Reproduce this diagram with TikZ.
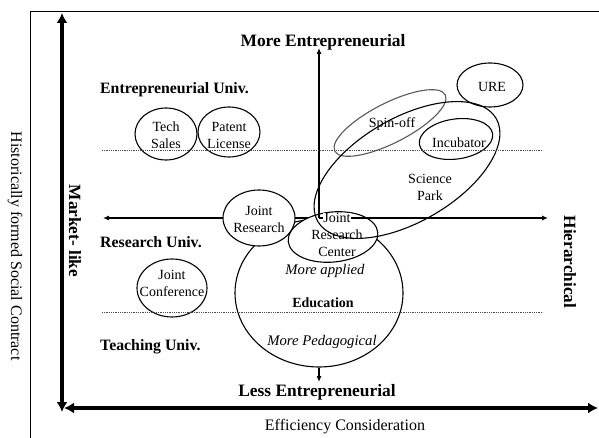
\documentclass[tikz,border=0pt]{standalone}
\usepackage{fontspec}
\setmainfont{Liberation Serif}
\usetikzlibrary{shapes.geometric,arrows.meta}
\begin{document}
\begin{tikzpicture}[x=1pt,y=-1pt,
  oval/.style={draw, ellipse, line width=1.1pt, inner sep=0pt},
  txt/.style={font=\fontsize{14}{17}\selectfont, align=center, inner sep=0pt},
  itxt/.style={font=\fontsize{14.7}{17}\selectfont\itshape, inner sep=0pt},
  lvl/.style={font=\fontsize{15.8}{18}\selectfont\bfseries, anchor=west, inner sep=0pt},
  big/.style={font=\fontsize{17.4}{20}\selectfont\bfseries, inner sep=0pt},
  axthin/.style={line width=1.1pt, -{Latex[length=6pt,width=5pt]}},
  axthick/.style={line width=4pt, {Latex[length=10pt,width=11pt]}-{Latex[length=10pt,width=11pt]}},
  dotline/.style={line width=0.8pt, black!70, dash pattern=on 1pt off 0.8pt}]
\useasboundingbox (0,0) rectangle (599,438);

% frame
\draw[line width=1pt] (30,438) -- (30,12) -- (599,12);

% coordinates
\coordinate (tvtop) at (62,13);
\coordinate (tvbot) at (62,412);
\coordinate (thl) at (64,408);
\coordinate (thr) at (598,408);
\coordinate (origin) at (319,218);
\coordinate (hleft) at (103,218);
\coordinate (hright) at (548,218);
\coordinate (vtop) at (319,48);
\coordinate (vbot) at (319,382);
\coordinate (d1l) at (102,150);
\coordinate (d1r) at (543,150);
\coordinate (d2l) at (102,312);
\coordinate (d2r) at (543,312);

% thick axes
\draw[axthick] (tvbot) -- (tvtop);
\draw[axthick] (thl) -- (thr);

% left part of horizontal axis
\draw[axthin] (origin) -- (hleft);

% filled ellipses
\node[oval, fill=white, minimum width=168, minimum height=148] (edu) at (319,293) {};
\node[oval, fill=white, minimum width=72, minimum height=56] (jr) at (259,218) {};
\node[oval, fill=white, minimum width=90, minimum height=50, rotate=6] (jrc) at (333,237) {};

% remaining axes
\draw[axthin] (origin) -- (hright);
\draw[axthin] (origin) -- (vtop);
\draw[axthin] (edu.south) -- (vbot);

% texts in filled ellipses
\node[txt] (jrt) at (259,219) {Joint\\Research};
\node[txt, fill=white, inner sep=0.5pt] (jrc1) at (337,218) {Joint};
\node[txt] (jrc2) at (337,235) {Research};
\node[txt] (jrc3) at (337,252) {Center};
\node[itxt] (mapp) at (325,271) {More applied};
\node[txt, font=\fontsize{14}{17}\selectfont\bfseries] (eduT) at (323,303) {Education};
\node[itxt] (mped) at (322,342) {More Pedagogical};

% other ellipses
\node[oval, minimum width=62, minimum height=52] (ts) at (166,134) {};
\node[oval, minimum width=62, minimum height=50] (pl) at (229,132) {};
\node[oval, minimum width=66, minimum height=44] (ure) at (490,85) {};
\node[oval, draw=black!65, minimum width=124, minimum height=40, rotate=27] (spin) at (390,123) {};
\node[oval, minimum width=74, minimum height=40, rotate=8] (inc) at (456,139) {};
\node[oval, minimum width=206, minimum height=104, rotate=30] (sp) at (407,170) {};
\node[oval, minimum width=70, minimum height=58] (jc) at (172,288) {};

\node[txt] (tsT) at (166,135.5) {Tech\\Sales};
\node[txt] (plT) at (229,135.5) {Patent\\License};
\node[txt] (ureT) at (492,87) {URE};
\node[txt] (spinT) at (392,124) {Spin-off};
\node[txt] (incT) at (459,143) {Incubator};
\node[txt] (spT) at (430,187.5) {Science\\Park};
\node[txt] (jcT) at (172,283.5) {Joint\\Conference};

% dotted level lines
\draw[dotline] (d1l) -- (d1r);
\draw[dotline] (d2l) -- (d2r);

% labels
\node[big] (moreE) at (323,42) {More Entrepreneurial};
\node[big] (lessE) at (317,392) {Less Entrepreneurial};
\node[lvl] (eu) at (100,90) {Entrepreneurial Univ.};
\node[lvl] (ru) at (100,242) {Research Univ.};
\node[lvl] (tu) at (100,347) {Teaching Univ.};
\node[big, font=\fontsize{17.2}{20}\selectfont\bfseries, rotate=-90] (mkt) at (75,231) {Market- like};
\node[big, font=\fontsize{17.2}{20}\selectfont\bfseries, rotate=-90] (hier) at (570,262) {Hierarchical};
\node[font=\fontsize{16}{19}\selectfont, inner sep=0pt, rotate=-90] (hist) at (15,246) {Historically formed Social Contract};
\node[font=\fontsize{16}{19}\selectfont, inner sep=0pt] (eff) at (345,427) {Efficiency Consideration};
\end{tikzpicture}
\end{document}
